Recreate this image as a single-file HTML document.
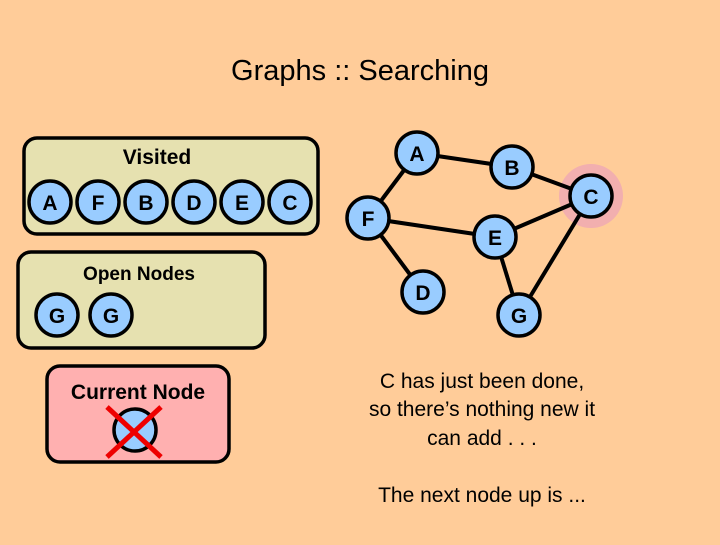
<!DOCTYPE html>
<html><head><style>body{margin:0;background:#FFCC99;}</style></head><body>
<svg width="720" height="540" xmlns="http://www.w3.org/2000/svg" font-family="Liberation Sans, sans-serif">
<defs>
<g id="n"><circle r="21" fill="#99CCFF" stroke="#000" stroke-width="3.5"/></g>
</defs>
<rect width="720" height="540" fill="#FFCC99"/>
<text x="360" y="80" font-size="29" text-anchor="middle">Graphs :: Searching</text>
<!-- Visited -->
<rect x="24" y="138" width="294" height="96" rx="13" fill="#E6E1B0" stroke="#000" stroke-width="3.5"/>
<text x="157" y="164" font-size="21" font-weight="bold" text-anchor="middle">Visited</text>
<g font-size="21" font-weight="bold" text-anchor="middle">
<g transform="translate(50,202)"><use href="#n"/><text y="8">A</text></g>
<g transform="translate(98,202)"><use href="#n"/><text y="8">F</text></g>
<g transform="translate(146,202)"><use href="#n"/><text y="8">B</text></g>
<g transform="translate(194,202)"><use href="#n"/><text y="8">D</text></g>
<g transform="translate(242,202)"><use href="#n"/><text y="8">E</text></g>
<g transform="translate(290,202)"><use href="#n"/><text y="8">C</text></g>
</g>
<!-- Open -->
<rect x="18" y="252" width="247" height="96" rx="13" fill="#E6E1B0" stroke="#000" stroke-width="3.5"/>
<text x="139" y="280" font-size="19" font-weight="bold" text-anchor="middle">Open Nodes</text>
<g font-size="21" font-weight="bold" text-anchor="middle">
<g transform="translate(57,315)"><use href="#n"/><text y="8">G</text></g>
<g transform="translate(111,315)"><use href="#n"/><text y="8">G</text></g>
</g>
<!-- Current -->
<rect x="47" y="366" width="182" height="96" rx="13" fill="#FFB0B0" stroke="#000" stroke-width="3.5"/>
<text x="138" y="399" font-size="21" font-weight="bold" text-anchor="middle">Current Node</text>
<g transform="translate(135,430)"><use href="#n"/></g>
<line x1="107" y1="407" x2="161" y2="457" stroke="#E00" stroke-width="5"/>
<line x1="161" y1="407" x2="107" y2="457" stroke="#E00" stroke-width="5"/>
<!-- Graph -->
<circle cx="591" cy="196" r="32" fill="#F2AFAF"/>
<g stroke="#000" stroke-width="4">
<line x1="417" y1="153" x2="512" y2="167"/>
<line x1="417" y1="153" x2="368" y2="218"/>
<line x1="512" y1="167" x2="591" y2="196"/>
<line x1="368" y1="218" x2="495" y2="237"/>
<line x1="368" y1="218" x2="423" y2="292"/>
<line x1="495" y1="237" x2="591" y2="196"/>
<line x1="495" y1="237" x2="519" y2="315"/>
<line x1="591" y1="196" x2="519" y2="315"/>
</g>
<g font-size="21" font-weight="bold" text-anchor="middle">
<g transform="translate(417,153)"><use href="#n"/><text y="8">A</text></g>
<g transform="translate(512,167)"><use href="#n"/><text y="8">B</text></g>
<g transform="translate(591,196)"><use href="#n"/><text y="8">C</text></g>
<g transform="translate(368,218)"><use href="#n"/><text y="8">F</text></g>
<g transform="translate(495,237)"><use href="#n"/><text y="8">E</text></g>
<g transform="translate(423,292)"><use href="#n"/><text y="8">D</text></g>
<g transform="translate(519,315)"><use href="#n"/><text y="8">G</text></g>
</g>
<g font-size="21" text-anchor="middle">
<text x="482" y="388">C has just been done,</text>
<text x="482" y="416">so there’s nothing new it</text>
<text x="482" y="445">can add . . .</text>
<text x="482" y="502">The next node up is ...</text>
</g>
</svg>
</body></html>
